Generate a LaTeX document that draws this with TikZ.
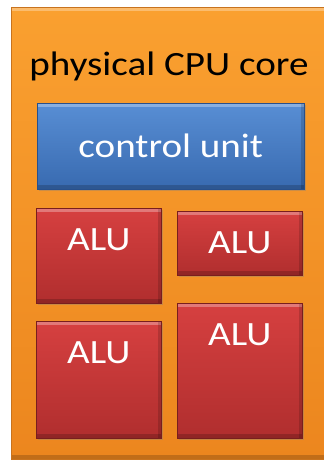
\documentclass[tikz,border=0pt]{standalone}
\usepackage{fontspec}
\setmainfont{Carlito}[FakeStretch=1.15]
\usetikzlibrary{calc,shadows}
\definecolor{orA}{RGB}{250,160,48}
\definecolor{orB}{RGB}{236,134,30}
\definecolor{orE}{RGB}{200,115,30}
\definecolor{blA}{RGB}{88,142,212}
\definecolor{blB}{RGB}{56,106,176}
\definecolor{blE}{RGB}{40,80,140}
\definecolor{rdA}{RGB}{214,64,64}
\definecolor{rdB}{RGB}{176,46,46}
\definecolor{rdE}{RGB}{120,30,30}
\tikzset{
  x=1pt, y=-1pt,
  bevel/.style={path picture={
      \fill[white,opacity=0.30] (path picture bounding box.north west) rectangle ([yshift=-4pt]path picture bounding box.north east);
      \fill[black,opacity=0.18] ([yshift=4pt]path picture bounding box.south west) rectangle (path picture bounding box.south east);
      \fill[black,opacity=0.15] ([xshift=-3pt]path picture bounding box.north east) rectangle (path picture bounding box.south east);}},
  corebox/.style={anchor=north west, inner sep=0pt, draw=orE, line width=0.6pt, top color=orA, bottom color=orB, bevel},
  cubox/.style={anchor=north west, inner sep=0pt, draw=blE, line width=0.6pt, top color=blA, bottom color=blB, bevel,
      drop shadow={opacity=0.35, shadow xshift=1.5pt, shadow yshift=-1.5pt}},
  alubox/.style={anchor=north west, inner sep=0pt, draw=rdE, line width=0.6pt, top color=rdA, bottom color=rdB, bevel,
      drop shadow={opacity=0.35, shadow xshift=1.5pt, shadow yshift=-1.5pt}},
  lbl/.style={font=\fontsize{34}{40}\selectfont, inner sep=0pt},
  wlbl/.style={lbl, text=white},
}
\begin{document}
\begin{tikzpicture}
\useasboundingbox[fill=white] (0,0) rectangle (324,461);
\node[corebox, minimum width=320pt, minimum height=452pt] (core) at (11,7) {};
\node[lbl, anchor=base] (title) at (169,75) {physical CPU core};
\node[cubox, minimum width=267pt, minimum height=86pt] (cu) at (37,103) {};
\node[wlbl] (cut) at (cu.center) {control unit};
\node[alubox, minimum width=125pt, minimum height=95pt] (a1) at (36,208) {};
\node[alubox, minimum width=125pt, minimum height=64pt] (a2) at (177,211) {};
\node[alubox, minimum width=125pt, minimum height=117pt] (a3) at (36,321) {};
\node[alubox, minimum width=125pt, minimum height=135pt] (a4) at (177,303) {};
\node[wlbl] (t1) at ($(a1.north)+(0,32)$) {ALU};
\node[wlbl] (t2) at ($(a2.north)+(0,32)$) {ALU};
\node[wlbl] (t3) at ($(a3.north)+(0,32)$) {ALU};
\node[wlbl] (t4) at ($(a4.north)+(0,32)$) {ALU};
\end{tikzpicture}
\end{document}
